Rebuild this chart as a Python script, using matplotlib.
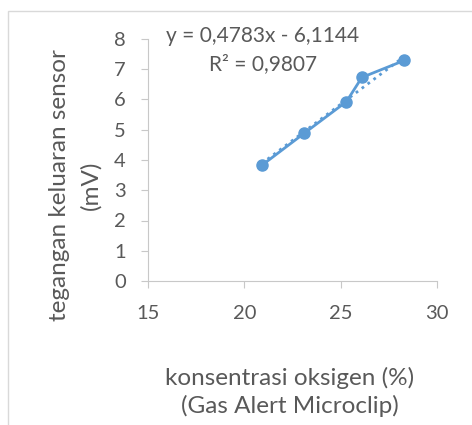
import matplotlib.pyplot as plt
import numpy as np

konsentrasi = [20.9, 23.1, 25.3, 26.1, 28.3]
tegangan = [3.82, 4.88, 5.93, 6.73, 7.29]
slope, intercept = 0.4783, -6.1144
eq_text = "y = 0,4783x - 6,1144"
r2_text = "R² = 0,9807"

plt.rcParams['font.family'] = ['Lato', 'DejaVu Sans']
grey = '#595959'
blue = '#5B9BD5'

fig = plt.figure(figsize=(4.72, 4.25), dpi=100)
# outer chart border like excel
fig.add_artist(plt.Rectangle((8/472, -0.01), 1.0, 1 - 11/425 + 0.01, transform=fig.transFigure,
                             fill=False, edgecolor='#D9D9D9', lw=1))
ax = fig.add_axes([148/472, 1 - 281/425, (437-148)/472, (281-39)/425])

ax.plot(konsentrasi, tegangan, '-o', color=blue, lw=2, ms=8)
xt = np.array([min(konsentrasi), max(konsentrasi)])
ax.plot(xt, slope*xt + intercept, ':', color=blue, lw=2)

ax.set_xlim(15, 30)
ax.set_ylim(0, 8)
ax.set_xticks([15, 20, 25, 30])
ax.set_yticks(range(0, 9))
for s in ['top', 'right']:
    ax.spines[s].set_visible(False)
for s in ['left', 'bottom']:
    ax.spines[s].set_color('#C8C8C8')
ax.tick_params(colors='#C8C8C8', labelcolor=grey, labelsize=14.5, length=5, direction='out')
ax.tick_params(axis='x', pad=12)
ax.tick_params(axis='y', pad=11)

fig.text(263/472, 1 - 36/425, eq_text, ha='center', va='center', fontsize=15, color=grey)
fig.text(263/472, 1 - 64/425, r2_text, ha='center', va='center', fontsize=15, color=grey)

fig.text(60/472, 1 - 185/425, "tegangan keluaran sensor", rotation=90, ha='center', va='center',
         fontsize=17.5, color=grey)
fig.text(91/472, 1 - 185/425, "(mV)", rotation=90, ha='center', va='center', fontsize=17.5, color=grey)
fig.text(290/472, 1 - 378/425, "konsentrasi oksigen (%)", ha='center', va='center', fontsize=17.5, color=grey)
fig.text(290/472, 1 - 406/425, "(Gas Alert Microclip)", ha='center', va='center', fontsize=17.5, color=grey)

fig.savefig('out.png', dpi=100)
